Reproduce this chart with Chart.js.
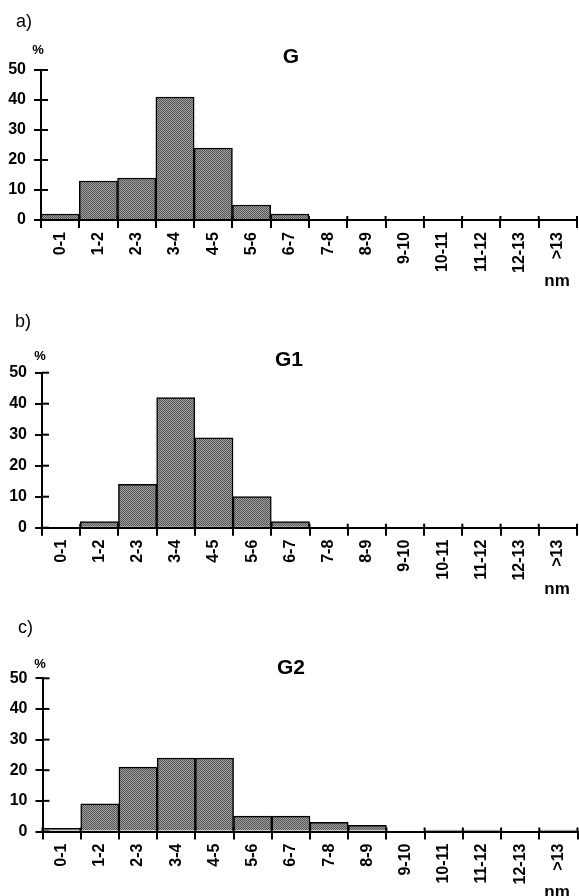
<!DOCTYPE html>
<html><head><meta charset="utf-8">
<script src="https://cdn.jsdelivr.net/npm/chart.js@4"></script>
<style>
html,body{margin:0;padding:0;background:#fff;}
body{width:579px;height:896px;position:relative;overflow:hidden;}
.panel{position:absolute;left:0;width:579px;}
</style></head><body>
<div class="panel" style="top:0;height:300px"><canvas id="c0"></canvas></div>
<div class="panel" style="top:300px;height:300px"><canvas id="c1"></canvas></div>
<div class="panel" style="top:600px;height:296px"><canvas id="c2"></canvas></div>
<script>
// ---- data ----
const categories = ['0-1','1-2','2-3','3-4','4-5','5-6','6-7','7-8','8-9','9-10','10-11','11-12','12-13','>13'];
const valuesG  = [2, 13, 14, 41, 24, 5, 2, 0, 0, 0, 0, 0, 0, 0];
const valuesG1 = [0, 2, 14, 42, 29, 10, 2, 0, 0, 0, 0, 0, 0, 0];
const valuesG2 = [1, 9, 21, 24, 24, 5, 5, 3, 2, 0, 0.5, 0.5, 0, 0.5];
const yTicks = [0, 10, 20, 30, 40, 50];
const panelLetters = ['a)', 'b)', 'c)'];
const panelTitles = ['G', 'G1', 'G2'];
const unitY = '%';
const unitX = 'nm';
const seriesList = [valuesG, valuesG1, valuesG2];

// ---- layout (positions relative to each panel) ----
const layouts = [
  {height:300, plotTop:70,   plotBottom:220,   left:41, right:577, letter:[16,22], pct:[38,50], title:[291,57],   nm:[557,281]},
  {height:300, plotTop:72.7, plotBottom:227.7, left:42, right:577, letter:[15,22], pct:[40,56], title:[289,60.5], nm:[557,289]},
  {height:296, plotTop:78.3, plotBottom:231.5, left:42.5, right:577.5, letter:[18,28], pct:[40,64], title:[291,68], nm:[557,292]}
];

const FONT = "'Liberation Sans', Arial, Helvetica, sans-serif";

// halftone-like gray fill
const pc = document.createElement('canvas'); pc.width = 2; pc.height = 2;
const pg = pc.getContext('2d');
pg.fillStyle = '#a0a0a0'; pg.fillRect(0,0,2,2);
pg.fillStyle = '#555555'; pg.fillRect(0,0,1,1); pg.fillRect(1,1,1,1);

function makeChart(idx){
  const L = layouts[idx];
  const canvas = document.getElementById('c' + idx);
  const ctx = canvas.getContext('2d');
  const pattern = ctx.createPattern(pc, 'repeat');

  const decor = {
    id: 'decor' + idx,
    afterDraw(chart){
      const c = chart.ctx;
      const xs = chart.scales.x, ys = chart.scales.y;
      const ca = chart.chartArea;
      c.save();
      c.strokeStyle = '#000';
      c.lineWidth = 2;
      // inward extensions of tick marks
      for (let i = 0; i <= categories.length; i++) {
        const px = xs.getPixelForValue(i - 0.5);
        c.beginPath(); c.moveTo(px, ca.bottom); c.lineTo(px, ca.bottom - 4); c.stroke();
      }
      yTicks.forEach(v => {
        const py = ys.getPixelForValue(v);
        c.beginPath(); c.moveTo(ca.left, py); c.lineTo(ca.left + 7, py); c.stroke();
      });
      // texts
      c.fillStyle = '#000';
      c.textBaseline = 'middle';
      c.textAlign = 'left';
      c.font = '18px ' + FONT;
      c.fillText(panelLetters[idx], L.letter[0], L.letter[1]);
      c.textAlign = 'center';
      c.font = 'bold 13px ' + FONT;
      c.fillText(unitY, L.pct[0], L.pct[1]);
      c.font = 'bold 21px ' + FONT;
      c.fillText(panelTitles[idx], L.title[0], L.title[1]);
      c.font = 'bold 17px ' + FONT;
      c.fillText(unitX, L.nm[0], L.nm[1]);
      c.restore();
    }
  };

  return new Chart(ctx, {
    type: 'bar',
    data: {
      labels: categories,
      datasets: [{
        data: seriesList[idx],
        backgroundColor: pattern,
        borderColor: '#000',
        borderWidth: 1.5,
        categoryPercentage: 1,
        barPercentage: 1
      }]
    },
    options: {
      responsive: true,
      maintainAspectRatio: false,
      animation: false,
      events: [],
      layout: {padding: {top: L.plotTop, left: 0, right: 579 - L.right, bottom: 0}},
      plugins: {legend: {display: false}, tooltip: {enabled: false}, title: {display: false}},
      scales: {
        x: {
          offset: true,
          grid: {display: true, drawOnChartArea: false, drawTicks: true, tickLength: 8, color: '#000', lineWidth: 2, offset: true},
          border: {display: true, color: '#000', width: 2},
          ticks: {autoSkip: false, minRotation: 90, maxRotation: 90, padding: 4, color: '#000',
                  font: {family: FONT, size: 16, weight: 'bold'}},
          afterFit(s){ s.height = L.height - L.plotBottom; s.paddingLeft = 0; s.paddingRight = 0; }
        },
        y: {
          min: 0, max: 50,
          afterBuildTicks(s){ s.ticks = yTicks.map(v => ({value: v})); },
          grid: {display: true, drawOnChartArea: false, drawTicks: true, tickLength: 7, color: '#000', lineWidth: 2},
          border: {display: true, color: '#000', width: 2},
          ticks: {padding: 8, color: '#000', font: {family: FONT, size: 16, weight: 'bold'}},
          afterFit(s){ s.width = L.left; s.paddingTop = 0; s.paddingBottom = 0; }
        }
      }
    },
    plugins: [decor]
  });
}
[0,1,2].forEach(makeChart);
</script>
</body></html>
